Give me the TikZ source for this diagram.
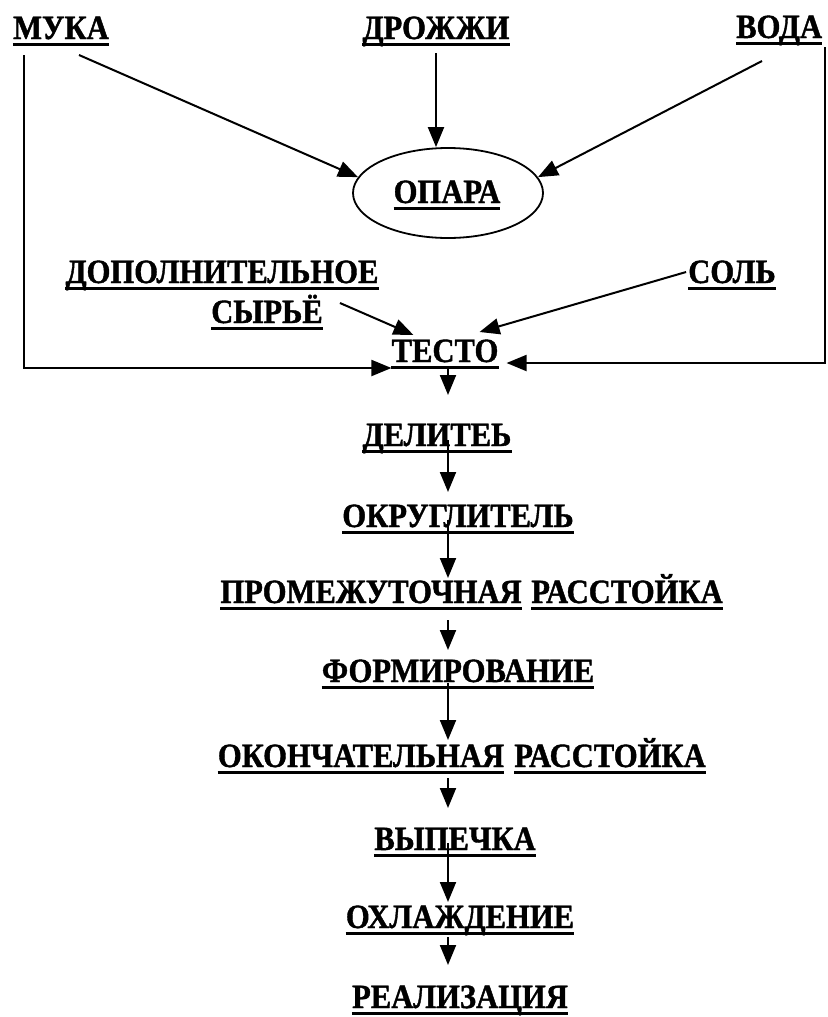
\documentclass[tikz,border=0pt]{standalone}
\usepackage{fontspec}
\setmainfont{Liberation Serif}[BoldFeatures={FakeStretch=0.9,FakeBold=1.2}]
\usetikzlibrary{arrows.meta,shapes.geometric}
\tikzset{
  word/.style={font=\bfseries\fontsize{34}{38}\selectfont, inner sep=0pt, anchor=base},
  arr/.style={line width=2pt, -{Triangle[length=20pt,width=16pt]}},
  uline/.style={line width=3pt}
}
\begin{document}
\begin{tikzpicture}[x=1pt,y=-1pt]
\useasboundingbox (0,0) rectangle (827,1017);
\node[word] (muka) at (61,39) {МУКА};
\node[word] (drozhzhi) at (436,39) {ДРОЖЖИ};
\node[word, anchor=base west] (voda) at (736,38) {ВОДА};
\node[draw, ellipse, line width=1.8pt, minimum width=190pt, minimum height=90pt] (opara) at (448,193) {};
\node[word] (oparatxt) at (447,203) {ОПАРА};
\node[word] (dop) at (222,283) {ДОПОЛНИТЕЛЬНОЕ};
\node[word] (syrie) at (267,323) {СЫРЬЁ};
\node[word] (sol) at (732,283) {СОЛЬ};
\node[word] (testo) at (445,362) {ТЕСТО};
\node[word] (delitel) at (437,446) {ДЕЛИТЕЬ};
\node[word] (okrug) at (458,527) {ОКРУГЛИТЕЛЬ};
\node[word] (prom) at (371,603) {ПРОМЕЖУТОЧНАЯ};
\node[word] (rass1) at (627,603) {РАССТОЙКА};
\node[word] (form) at (458,682) {ФОРМИРОВАНИЕ};
\node[word] (okon) at (361,767) {ОКОНЧАТЕЛЬНАЯ};
\node[word] (rass2) at (610,767) {РАССТОЙКА};
\node[word] (vyp) at (455,850) {ВЫПЕЧКА};
\node[word] (ohl) at (460,928) {ОХЛАЖДЕНИЕ};
\node[word] (real) at (460,1008) {РЕАЛИЗАЦИЯ};
\coordinate (ax) at (448,0);
\foreach \n in {muka,drozhzhi,voda,oparatxt,dop,syrie,sol,testo,delitel,okrug,prom,rass1,form,okon,rass2,vyp,ohl,real}
  \draw[uline] ([yshift=-5pt]\n.base west) -- ([yshift=-5pt]\n.base east);
\draw[arr] ([xshift=18pt,yshift=-16pt]muka.base) -- (opara.170);
\draw[arr] ([yshift=-14pt]drozhzhi.base) -- (drozhzhi.base |- opara.north);
\draw[arr] ([xshift=26pt,yshift=-23pt]voda.base west) -- (opara.10);
\draw[arr] ([xshift=17pt,yshift=20pt]syrie.base east) -- ([xshift=22pt,yshift=27pt]testo.base west);
\draw[arr] ([xshift=-2pt,yshift=11pt]sol.base west) -- ([xshift=-19pt,yshift=30pt]testo.base east);
\draw[arr] ([xshift=11pt,yshift=-16pt]muka.base west) |- ([yshift=-6pt]testo.base west);
\draw[arr] ([xshift=89pt,yshift=-9pt]voda.base west) |- ([xshift=8pt,yshift=-1pt]testo.base east);
\foreach \a/\b/\s/\e in {testo/delitel/-5pt/51pt, delitel/okrug/6pt/35pt, okrug/prom/7pt/25pt, prom/form/-17pt/32pt, form/okon/-1pt/27pt, okon/vyp/-11pt/42pt, vyp/ohl/7pt/26pt, ohl/real/-9pt/43pt}
  \draw[arr] ([yshift=\s]\a.base -| ax) -- ([yshift=\e]\b.base -| ax);
\end{tikzpicture}
\end{document}
